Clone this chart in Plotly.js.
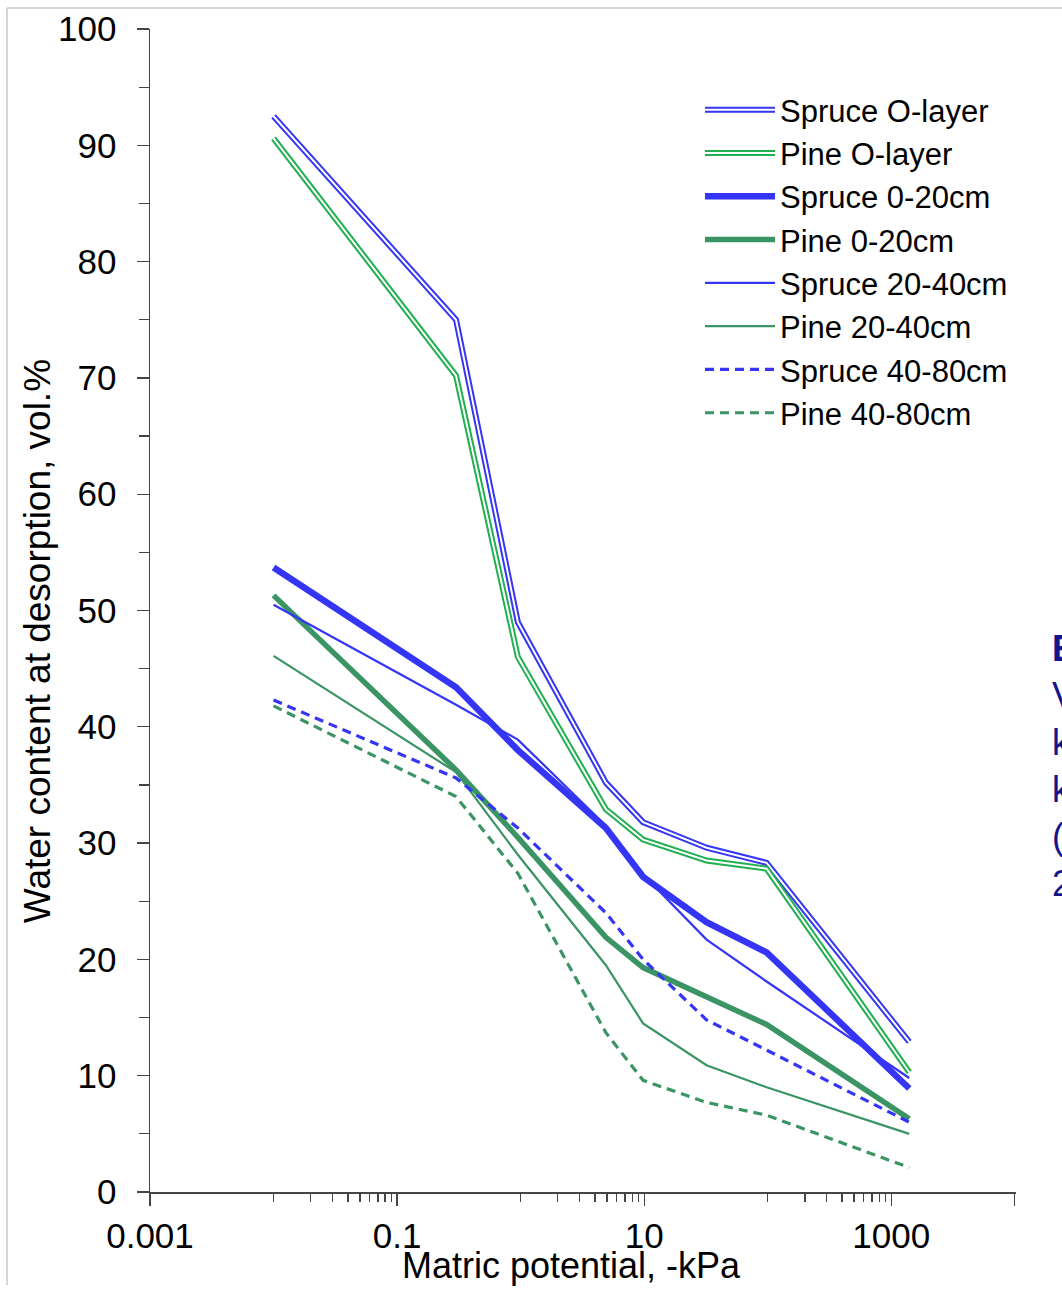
<!DOCTYPE html>
<html>
<head>
<meta charset="utf-8">
<script src="https://cdn.plot.ly/plotly-3.0.1.min.js"></script>
<style>
html,body{margin:0;padding:0;background:#fff;}
#chart{width:1062px;height:1291px;}
</style>
</head>
<body>
<div id="chart"></div>
<script>
// Matric potential, -kPa
const potential = [0.01, 0.3, 0.95, 4.9, 9.8, 32, 98, 1400];

// Water content at desorption, vol.%
const spruceO     = [92.5, 75.0, 49.0, 35.2, 31.8, 29.6, 28.3, 12.9];
const pineO       = [90.6, 70.2, 46.0, 32.9, 30.3, 28.5, 27.8, 10.3];
const spruce0_20  = [53.7, 43.4, 38.0, 31.3, 27.1, 23.2, 20.6, 8.9];
const pine0_20    = [51.3, 36.3, 30.5, 21.9, 19.3, 16.8, 14.4, 6.3];
const spruce20_40 = [50.5, 41.9, 38.9, 31.5, 27.3, 21.7, 18.1, 9.8];
const pine20_40   = [46.1, 36.1, 29.0, 19.5, 14.5, 10.9, 9.0, 5.0];
const spruce40_80 = [42.3, 35.6, 31.3, 24.0, 20.0, 14.8, 12.2, 6.0];
const pine40_80   = [41.8, 34.0, 27.4, 13.7, 9.6, 7.7, 6.6, 2.1];

const seriesNames = ["Spruce O-layer", "Pine O-layer", "Spruce 0-20cm", "Pine 0-20cm",
                     "Spruce 20-40cm", "Pine 20-40cm", "Spruce 40-80cm", "Pine 40-80cm"];

const xTickVals = [0.001, 0.1, 10, 1000, 10000];
const xTickText = ["0.001", "0.1", "10", "1000", ""];
const xMinorVals = [0.01,0.02,0.03,0.04,0.05,0.06,0.07,0.08,0.09,
                    1,2,3,4,5,6,7,8,9,
                    100,200,300,400,500,600,700,800,900];

const xTitle = "Matric potential, -kPa";
const yTitle = "Water content at desorption, vol.%";
const sideText = ["E", "V", "k", "k", "(", "2"];

const BLUE = "#3535F5";
const GREEN_O = "#20B050";
const GREEN = "#3A9464";

function tr(y, name, color, width, dash, opts) {
  return Object.assign({
    x: potential, y: y, name: name, type: "scatter", mode: "lines",
    line: {color: color, width: width, dash: dash || "solid"},
    hoverinfo: "skip"
  }, opts || {});
}

const data = [
  tr(spruceO, seriesNames[0], BLUE, 6, "solid", {legend: "legend"}),
  tr(spruceO, seriesNames[0], "#ffffff", 2, "solid", {legend: "legend2"}),
  tr(pineO, seriesNames[1], GREEN_O, 6, "solid", {legend: "legend"}),
  tr(pineO, seriesNames[1], "#ffffff", 2, "solid", {legend: "legend2"}),
  tr(spruce0_20, seriesNames[2], BLUE, 6.5),
  tr(pine0_20, seriesNames[3], GREEN, 5.5),
  tr(spruce20_40, seriesNames[4], BLUE, 2.2),
  tr(pine20_40, seriesNames[5], GREEN, 2.2),
  tr(spruce40_80, seriesNames[6], BLUE, 3.2, "9px,6px"),
  tr(pine40_80, seriesNames[7], GREEN, 3.2, "9px,6px")
];

const FONT = "Liberation Sans, Arial, sans-serif";

const annotations = [{
  text: yTitle,
  xref: "paper", yref: "paper", x: -0.13, y: 0.474,
  xanchor: "center", yanchor: "middle", textangle: -90, showarrow: false,
  font: {family: FONT, size: 37, color: "#000"}
}, {
  text: xTitle,
  xref: "paper", yref: "paper", x: (571 - 150) / 866, y: (1192 - 1265) / 1163,
  xanchor: "center", yanchor: "middle", showarrow: false,
  font: {family: FONT, size: 36, color: "#000"}
}];
const sideY = [648, 695, 742, 789, 836, 883];
sideText.forEach((t, i) => {
  annotations.push({
    text: i === 0 ? "<b>" + t + "</b>" : t,
    xref: "paper", yref: "paper",
    x: (1050 - 150) / 866, y: (1192 - sideY[i]) / 1163,
    xanchor: "left", yanchor: "middle", showarrow: false,
    font: {family: FONT, size: 36, color: "#14148C"}
  });
});

const legendCommon = {
  x: (700 - 150) / 866, y: (1192 - 83) / 1163,
  xanchor: "left", yanchor: "top",
  bgcolor: "rgba(0,0,0,0)", borderwidth: 0,
  tracegroupgap: 0, itemwidth: 70,
  itemclick: false, itemdoubleclick: false
};

const layout = {
  width: 1062, height: 1291,
  margin: {l: 150, r: 46, t: 29, b: 99},
  paper_bgcolor: "#fff", plot_bgcolor: "#fff",
  font: {family: FONT, color: "#000"},
  showlegend: true,
  legend: Object.assign({font: {family: FONT, size: 31, color: "#000"}}, legendCommon),
  legend2: Object.assign({font: {family: FONT, size: 31, color: "rgba(0,0,0,0)"}}, legendCommon),
  xaxis: {
    type: "log", range: [-3, 4.01],
    tickmode: "array", tickvals: xTickVals, ticktext: xTickText,
    ticks: "outside", ticklen: 12, tickwidth: 1.3, tickcolor: "#444",
    minor: {tickmode: "array", tickvals: xMinorVals, ticks: "outside", ticklen: 8, tickwidth: 1.3, tickcolor: "#444", showgrid: false},
    showline: true, linecolor: "#444", linewidth: 1.5,
    showgrid: false, zeroline: false,
    tickfont: {family: FONT, size: 35, color: "#000"},
    ticklabelstandoff: 0,
    fixedrange: true
  },
  yaxis: {
    range: [0, 100], dtick: 10, tick0: 0,
    ticks: "outside", ticklen: 12, tickwidth: 1.3, tickcolor: "#444",
    minor: {dtick: 5, ticks: "outside", ticklen: 10, tickwidth: 1.3, tickcolor: "#444", showgrid: false},
    showline: true, linecolor: "#444", linewidth: 1.5,
    showgrid: false, zeroline: false,
    tickfont: {family: FONT, size: 35, color: "#000"},
    ticklabelstandoff: 13,
    fixedrange: true
  },
  shapes: [
    {type: "line", xref: "paper", yref: "paper", x0: (7 - 150) / 866, x1: (7 - 150) / 866,
     y0: (1192 - 8) / 1163, y1: (1192 - 1285) / 1163, line: {color: "#c8c8c8", width: 1.5}},
    {type: "line", xref: "paper", yref: "paper", x0: (7 - 150) / 866, x1: (1075 - 150) / 866,
     y0: (1192 - 8) / 1163, y1: (1192 - 8) / 1163, line: {color: "#c8c8c8", width: 1.5}}
  ],
  annotations: annotations
};

Plotly.newPlot("chart", data, layout, {displayModeBar: false, staticPlot: true});
</script>
</body>
</html>
